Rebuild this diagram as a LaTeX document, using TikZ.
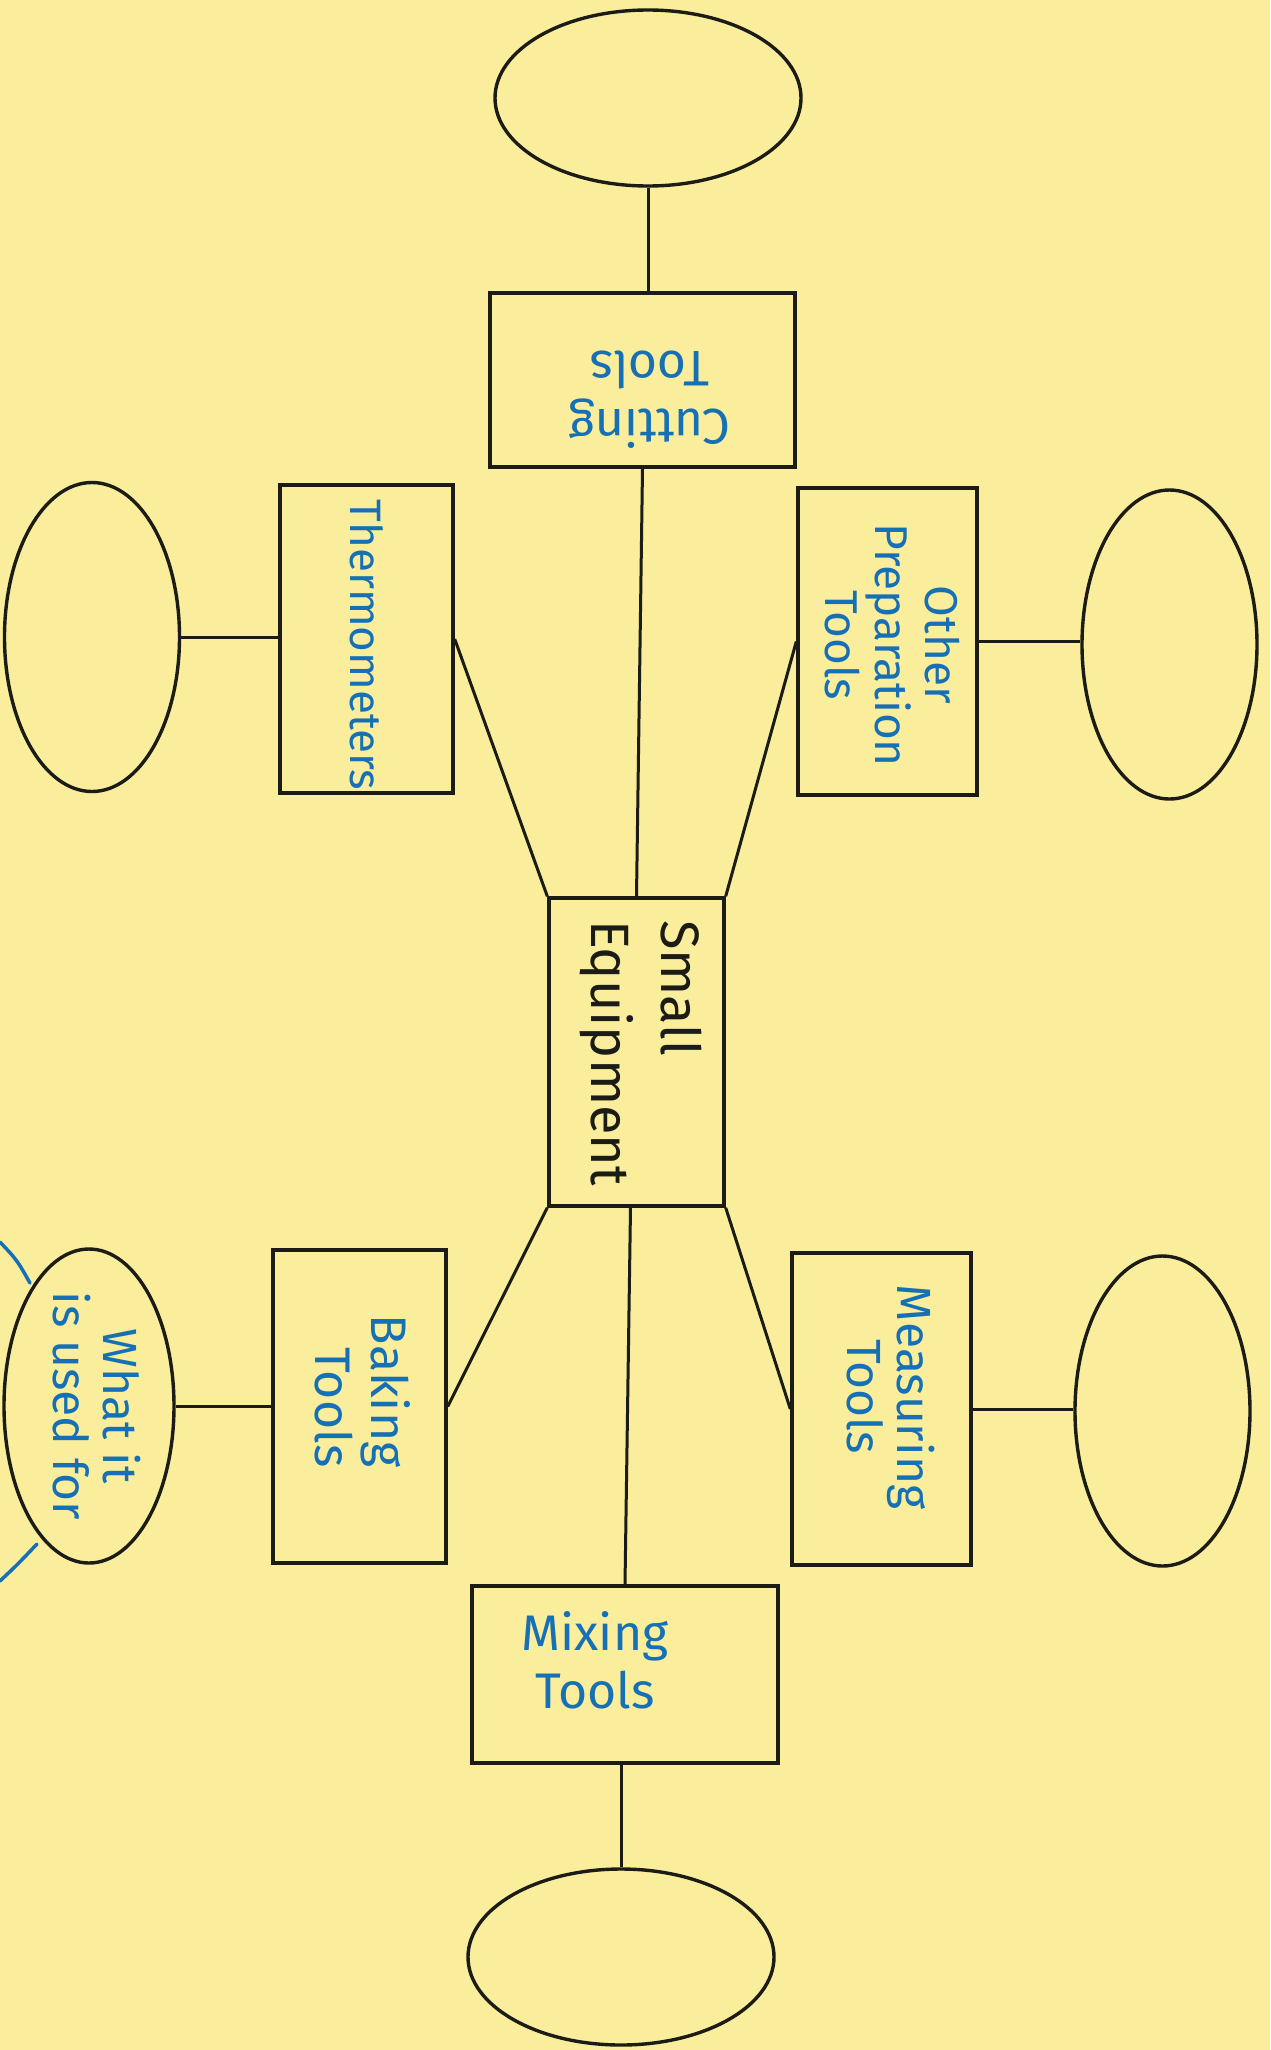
\documentclass[tikz,border=0pt]{standalone}
\usepackage{fontspec}
\setmainfont{Fira Sans}
\usetikzlibrary{shapes.geometric,calc}
\definecolor{paper}{RGB}{250,237,155}
\definecolor{ink}{RGB}{22,112,182}
\definecolor{pen}{RGB}{28,28,22}
\begin{document}
\begin{tikzpicture}[x=1pt,y=-1pt,
  box/.style={draw=pen,line width=3.4pt,rectangle,inner sep=0pt},
  oval/.style={draw=pen,line width=3.4pt,ellipse,inner sep=0pt},
  link/.style={draw=pen,line width=3pt},
  hand/.style={text=ink,inner sep=0pt},
  blackhand/.style={text=pen,inner sep=0pt},
  inkline/.style={draw=ink,line width=3.5pt,line cap=round}]
\path[fill=paper] (0,0) rectangle (1270,2050);
\useasboundingbox (0,0) rectangle (1270,2050);

% shapes
\node[oval,minimum width=306pt,minimum height=176pt] (etop) at (648,98) {};
\node[box,minimum width=305pt,minimum height=174pt] (cut) at (642.5,380) {};
\node[box,minimum width=173pt,minimum height=308pt] (therm) at (366.5,639) {};
\node[oval,minimum width=175pt,minimum height=309pt] (etherm) at (92,637) {};
\node[box,minimum width=179pt,minimum height=307pt] (other) at (887.5,641.5) {};
\node[oval,minimum width=175pt,minimum height=309pt] (eother) at (1169.5,644.5) {};
\node[box,minimum width=175pt,minimum height=308pt] (se) at (636.5,1052) {};
\node[box,minimum width=173pt,minimum height=313pt] (bake) at (359.5,1406.5) {};
\node[oval,minimum width=170pt,minimum height=314pt] (ewhat) at (89,1406) {};
\node[box,minimum width=179pt,minimum height=312pt] (meas) at (881.5,1409) {};
\node[oval,minimum width=175pt,minimum height=310pt] (emeas) at (1162.5,1411) {};
\node[box,minimum width=306pt,minimum height=177pt] (mix) at (625,1674.5) {};
\node[oval,minimum width=306pt,minimum height=176pt] (ebot) at (621,1957) {};

% connectors
\draw[link] (etop.south) -- (etop.south |- cut.north);
\draw[link] (cut.south) -- (se.north);
\draw[link] (etherm.east) -- (etherm.east -| therm.west);
\draw[link] (other.east) -- (other.east -| eother.west);
\draw[link] (therm.east) -- (se.north west);
\draw[link] (other.west) -- (se.north east);
\draw[link] (se.south west) -- (bake.east);
\draw[link] (se.south east) -- (meas.west);
\draw[link] (ewhat.east) -- (ewhat.east -| bake.west);
\draw[link] (meas.east) -- (meas.east -| emeas.west);
\draw[link] ($(se.south)+(-6,0)$) -- (mix.north);
\draw[link] (ebot.north |- mix.south) -- (ebot.north);

% texts
\node[hand,rotate=180,align=center,font=\fontsize{50}{58}\selectfont] (tcut) at (650,400) {Cutting\\Tools};
\node[hand,rotate=-90,font=\fontsize{44}{50}\selectfont] (ttherm) at (367,645) {Thermometers};
\node[hand,rotate=-90,align=center,font=\fontsize{46}{50}\selectfont] (tother) at (892,645) {Other\\Preparation\\Tools};
\node[blackhand,rotate=-90,align=left,font=\fontsize{54}{70}\selectfont] (tse) at (641,1053) {Small\\Equipment};
\node[hand,rotate=-90,align=center,font=\fontsize{48}{50}\selectfont] (twhat) at (97,1406) {What it\\is used for};
\node[hand,rotate=-90,align=right,font=\fontsize{50}{56}\selectfont] (tbake) at (363,1391) {Baking\\Tools};
\node[hand,rotate=-90,align=center,font=\fontsize{48}{50}\selectfont] (tmeas) at (891,1397) {Measuring\\Tools};
\node[hand,align=center,font=\fontsize{50}{58}\selectfont] (tmix) at (595,1660) {Mixing\\Tools};

% blue strokes off the left edge
\coordinate (bt0) at (0,1242);
\coordinate (bt1) at (30,1283);
\coordinate (bb0) at (37,1544);
\coordinate (bb1) at (0,1581);
\draw[inkline] (bt0) .. controls (17,1260) .. (bt1);
\draw[inkline] (bb0) .. controls (18,1564) .. (bb1);
\end{tikzpicture}
\end{document}
